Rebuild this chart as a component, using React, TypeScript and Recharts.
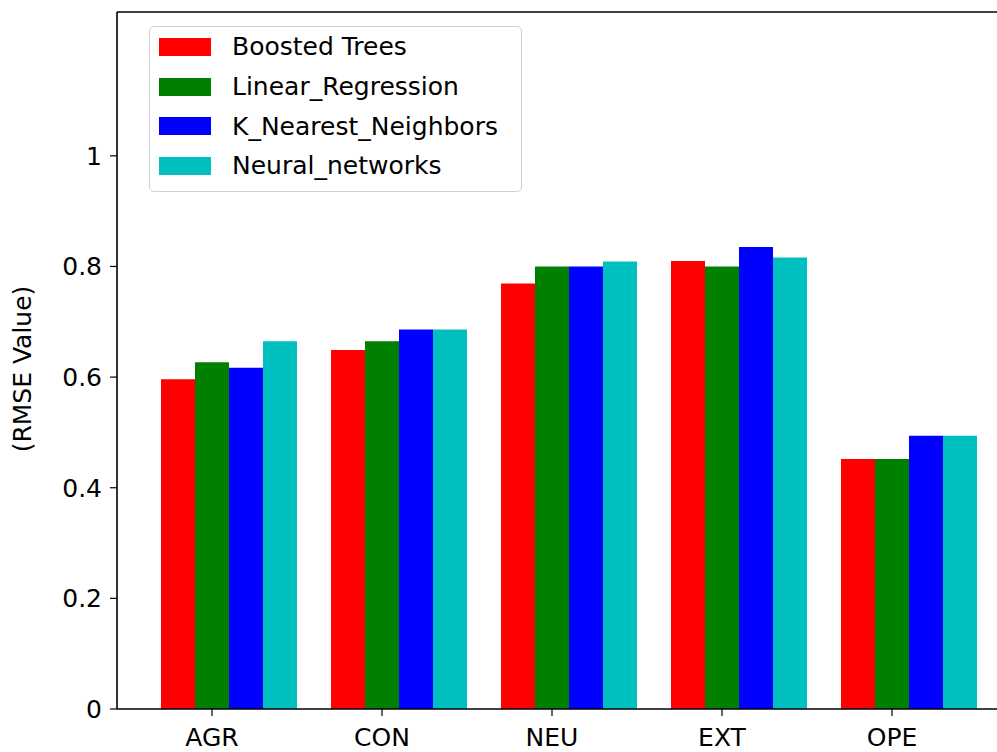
import { Bar, BarChart, Legend, XAxis, YAxis } from "recharts";

// RMSE per personality trait for each regression model
const categories = ["AGR", "CON", "NEU", "EXT", "OPE"];
const boostedTrees = [0.596, 0.649, 0.769, 0.81, 0.452];
const linearRegression = [0.627, 0.665, 0.8, 0.8, 0.452];
const kNearestNeighbors = [0.617, 0.686, 0.8, 0.835, 0.494];
const neuralNetworks = [0.665, 0.686, 0.809, 0.816, 0.494];
const yTicks = [0, 0.2, 0.4, 0.6, 0.8, 1];

const series = [
  { key: "boosted", name: "Boosted Trees", color: "#ff0000" },
  { key: "linear", name: "Linear_Regression", color: "#008000" },
  { key: "knn", name: "K_Nearest_Neighbors", color: "#0000ff" },
  { key: "neural", name: "Neural_networks", color: "#00bfbf" },
];

const data = categories.map((name, i) => ({
  name,
  boosted: boostedTrees[i],
  linear: linearRegression[i],
  knn: kNearestNeighbors[i],
  neural: neuralNetworks[i],
}));

const FONT = "'DejaVu Sans', sans-serif";

// legend keeps the series order instead of the default alphabetical sort
function LegendBox() {
  return (
    <div
      style={{
        width: 373,
        height: 166,
        boxSizing: "border-box",
        border: "1.5px solid #d0d0d0",
        borderRadius: 5,
        background: "#fff",
        fontFamily: FONT,
        fontSize: 25,
        color: "#000",
      }}
    >
      {series.map((s) => (
        <div
          key={s.key}
          style={{ display: "flex", alignItems: "center", height: 39.7 }}
        >
          <span
            style={{
              display: "inline-block",
              width: 52,
              height: 18,
              marginLeft: 9,
              background: s.color,
            }}
          />
          <span style={{ marginLeft: 21, whiteSpace: "nowrap" }}>{s.name}</span>
        </div>
      ))}
    </div>
  );
}

function YLabel() {
  return (
    <text
      x={22}
      y={369}
      transform="rotate(-90, 22, 369)"
      textAnchor="middle"
      dominantBaseline="central"
      fontFamily={FONT}
      fontSize={25}
      fill="#000"
    >
      (RMSE Value)
    </text>
  );
}

export default function App() {
  return (
    <div
      style={{
        position: "absolute",
        left: 0,
        top: 0,
        width: 997,
        height: 752,
        overflow: "hidden",
        background: "#fff",
      }}
    >
      {/* plot area runs past the right edge, so the right margin is negative */}
      <BarChart
        width={997}
        height={752}
        data={data}
        margin={{ top: 11, right: -24, bottom: 0, left: 0 }}
        barGap={0}
        barCategoryGap="10%"
      >
        {/* bars sit on this axis; the labelled one below is shifted so ticks fall on the green bars */}
        <XAxis
          xAxisId="bars"
          dataKey="name"
          orientation="top"
          height={0}
          hide
          padding={{ left: 27, right: 27 }}
        />
        <XAxis
          xAxisId="top"
          dataKey="name"
          orientation="top"
          height={1}
          tick={false}
          tickLine={false}
          axisLine={{ stroke: "#000", strokeWidth: 1.6 }}
        />
        <XAxis
          xAxisId="labels"
          dataKey="name"
          height={43}
          interval={0}
          padding={{ left: 10, right: 44 }}
          tickSize={7}
          tickMargin={12}
          axisLine={{ stroke: "#000", strokeWidth: 1.6 }}
          tickLine={{ stroke: "#000", strokeWidth: 1.2 }}
          tick={{ fill: "#000", fontSize: 25, fontFamily: FONT }}
        />
        <YAxis
          domain={[0, 1.26]}
          ticks={yTicks}
          width={117}
          tickSize={7}
          tickMargin={8}
          tickFormatter={(v: number) => String(v)}
          axisLine={{ stroke: "#000", strokeWidth: 1.6 }}
          tickLine={{ stroke: "#000", strokeWidth: 1.2 }}
          tick={{ fill: "#000", fontSize: 25, fontFamily: FONT }}
          label={<YLabel />}
        />
        <Legend
          layout="vertical"
          align="center"
          verticalAlign="middle"
          content={<LegendBox />}
          wrapperStyle={{ left: 149, top: 26, width: 373 }}
        />
        {series.map((s) => (
          <Bar
            key={s.key}
            xAxisId="bars"
            dataKey={s.key}
            name={s.name}
            fill={s.color}
            isAnimationActive={false}
          />
        ))}
      </BarChart>
    </div>
  );
}
